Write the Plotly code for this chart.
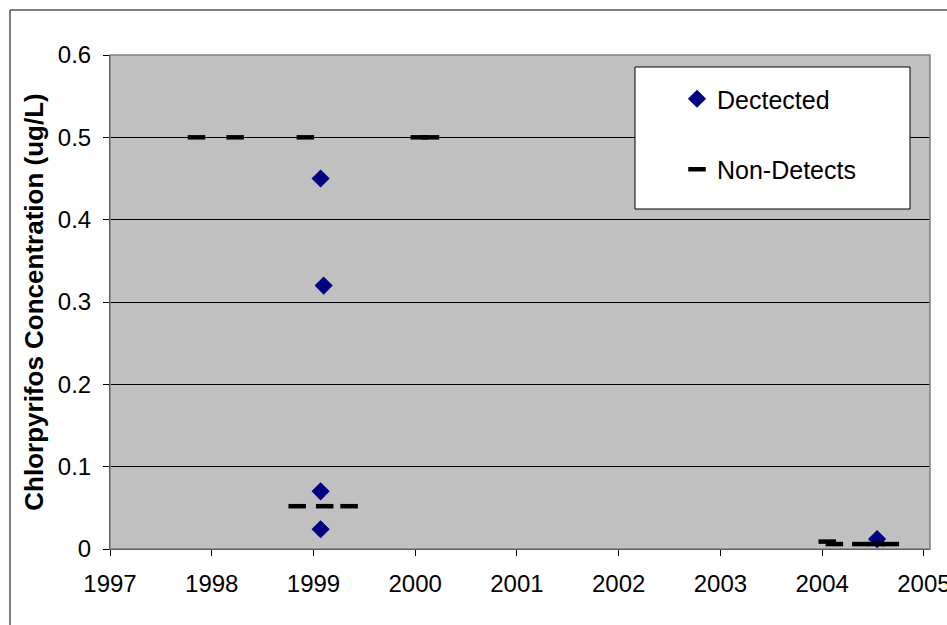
import plotly.graph_objects as go

# Detected samples (year, concentration ug/L)
det_year = [1999.07, 1999.10, 1999.07, 1999.07, 2004.54]
det_conc = [0.45, 0.32, 0.07, 0.024, 0.012]

# Non-detects (year, reporting limit ug/L)
nd_year = [1997.85, 1998.23, 1998.92, 2000.04, 2000.15,
           1998.84, 1999.11, 1999.35,
           2004.05, 2004.12, 2004.38, 2004.53, 2004.67]
nd_conc = [0.5, 0.5, 0.5, 0.5, 0.5,
           0.052, 0.052, 0.052,
           0.009, 0.006, 0.006, 0.006, 0.006]

x_ticks = [1997, 1998, 1999, 2000, 2001, 2002, 2003, 2004, 2005]
y_ticks = [0, 0.1, 0.2, 0.3, 0.4, 0.5, 0.6]

FONT = "Arial, Liberation Sans, sans-serif"

fig = go.Figure()
fig.add_trace(go.Scatter(
    x=det_year, y=det_conc, mode="markers", name="Dectected",
    legendgroup="a",
    marker=dict(symbol="diamond", size=14, color="#000080"),
))
fig.add_trace(go.Scatter(
    x=nd_year, y=nd_conc, mode="markers", name="Non-Detects",
    legendgroup="b",
    marker=dict(symbol="line-ew", size=12.5, color="black",
                line=dict(width=4.5, color="black")),
))

L, R, T, B = 110, 17, 55, 76
W, H = 947, 625
pw, ph = W - L - R, H - T - B

def px(x):
    return (x - L) / pw

def py(y):
    return (H - B - y) / ph

shapes = [
    # outer chart frame
    dict(type="rect", xref="paper", yref="paper",
         x0=px(10), x1=px(960), y0=py(640), y1=py(10),
         line=dict(color="black", width=1), fillcolor="rgba(0,0,0,0)", layer="above"),
    # plot area border
    dict(type="rect", xref="paper", yref="paper",
         x0=0, x1=1, y0=0, y1=1,
         line=dict(color="#808080", width=1.5), fillcolor="rgba(0,0,0,0)", layer="above"),
    # legend box
    dict(type="rect", xref="paper", yref="paper",
         x0=px(635), x1=px(910), y0=py(209), y1=py(67),
         line=dict(color="black", width=1), fillcolor="white", layer="above"),
]

fig.update_layout(
    width=W, height=H,
    margin=dict(l=L, r=R, t=T, b=B, autoexpand=False),
    paper_bgcolor="white",
    plot_bgcolor="#C0C0C0",
    font=dict(family=FONT, size=24, color="black"),
    showlegend=True,
    legend=dict(
        x=px(677), y=py(76), xanchor="left", yanchor="top",
        bgcolor="rgba(0,0,0,0)", borderwidth=0,
        font=dict(family=FONT, size=25, color="black"),
        tracegroupgap=35,
    ),
    shapes=shapes,
    xaxis=dict(
        range=[1997, 2005.06], tickvals=x_ticks, ticktext=[str(v) for v in x_ticks],
        showgrid=False, zeroline=False,
        showline=True, linecolor="black", linewidth=1,
        ticks="outside", ticklen=6, tickcolor="black",
        tickfont=dict(family=FONT, size=24),
        ticklabelstandoff=7,
        ticklabeloverflow="allow",
        automargin=False,
    ),
    yaxis=dict(
        range=[0, 0.6], tickvals=y_ticks, ticktext=["0", "0.1", "0.2", "0.3", "0.4", "0.5", "0.6"],
        showgrid=True, gridcolor="black", gridwidth=1,
        zeroline=False,
        showline=True, linecolor="black", linewidth=1,
        ticks="outside", ticklen=6, tickcolor="black",
        tickfont=dict(family=FONT, size=24),
        ticklabelstandoff=7,
        automargin=False,
        title=dict(text="<b>Chlorpyrifos Concentration (ug/L)</b>",
                   font=dict(family=FONT, size=26), standoff=6),
    ),
)

fig.write_html("out.html",
               config={"displayModeBar": False},
               post_script="document.body.style.margin='0';document.body.style.overflow='hidden';")
